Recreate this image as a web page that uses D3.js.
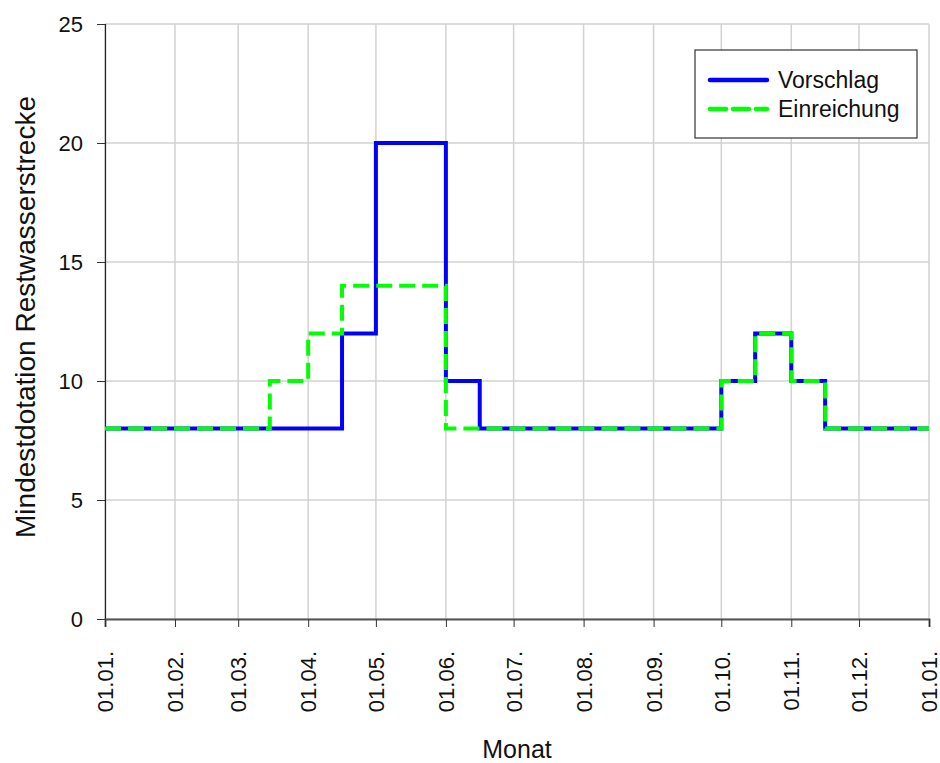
<!DOCTYPE html>
<html>
<head>
<meta charset="utf-8">
<script src="https://cdn.jsdelivr.net/npm/d3@7"></script>
<style>
  body { margin: 0; background: #fff; }
  text { font-family: Arial, 'Liberation Sans', sans-serif; fill: #111; }
</style>
</head>
<body>
<div id="chart"></div>
<script>
// data - change points (day.month) and the value that holds from there on
const vorschlagDates = ['01.01.2001', '16.04.2001', '01.05.2001', '01.06.2001', '16.06.2001', '01.10.2001', '16.10.2001', '01.11.2001', '16.11.2001', '01.01.2002']
const vorschlagValues = [8, 12, 20, 10, 8, 10, 12, 10, 8, 8]

const einreichungDates = ['01.01.2001', '15.03.2001', '01.04.2001', '16.04.2001', '01.06.2001', '01.10.2001', '16.10.2001', '01.11.2001', '16.11.2001', '01.01.2002']
const einreichungValues = [8, 10, 12, 14, 8, 10, 12, 10, 8, 8]

const yTicks = [0, 5, 10, 15, 20, 25]
const seriesNames = ['Vorschlag', 'Einreichung']

const parseDate = d3.timeParse('%d.%m.%Y')

var margin = { top: 24, left: 105, right: 11, bottom: 144 }
const width = 940 - margin.left - margin.right
const height = 763 - margin.top - margin.bottom

const svg = d3
  .select('#chart')
  .append('svg')
  .attr('width', width + margin.left + margin.right)
  .attr('height', height + margin.top + margin.bottom)
  .append('g')
  .attr('transform', 'translate(' + margin.left + ',' + margin.top + ')')

const xPositionScale = d3.scaleTime()
  .domain([parseDate('01.01.2001'), parseDate('01.01.2002')])
  .range([0, width])

const yPositionScale = d3.scaleLinear()
  .domain([0, 25])
  .range([height, 0])

const monthTicks = d3.timeMonth.range(parseDate('01.01.2001'), parseDate('02.01.2002'))

// grid lines
svg.selectAll('.x_grid')
  .data(monthTicks)
  .enter()
  .append('line')
  .attr('class', 'x_grid')
  .attr('x1', d => xPositionScale(d))
  .attr('x2', d => xPositionScale(d))
  .attr('y1', 0)
  .attr('y2', height)
  .attr('stroke', '#d2d2d2')
  .attr('stroke-width', 1.5)

svg.selectAll('.y_grid')
  .data(yTicks)
  .enter()
  .append('line')
  .attr('class', 'y_grid')
  .attr('x1', 0)
  .attr('x2', width)
  .attr('y1', d => yPositionScale(d))
  .attr('y2', d => yPositionScale(d))
  .attr('stroke', '#d2d2d2')
  .attr('stroke-width', 1.5)

// axes
const yAxis = d3.axisLeft(yPositionScale).tickValues(yTicks).tickSize(8).tickPadding(14)
const yG = svg.append('g').attr('class', 'axis y-axis').call(yAxis)
yG.select('.domain').attr('stroke', '#222').attr('stroke-width', 1.2)
yG.selectAll('line').attr('stroke', '#333')
yG.selectAll('text').attr('font-size', '22px').attr('fill', '#111')

const xAxis = d3.axisBottom(xPositionScale).tickValues(monthTicks).tickSize(8).tickFormat(d3.timeFormat('%d.%m.'))
const xG = svg.append('g')
  .attr('class', 'axis x-axis')
  .attr('transform', 'translate(0,' + height + ')')
  .call(xAxis)
xG.select('.domain').attr('stroke', '#555').attr('stroke-width', 2)
xG.selectAll('line').attr('stroke', '#333')
xG.selectAll('text')
  .attr('font-size', '22px')
  .attr('fill', '#111')
  .attr('transform', 'rotate(-90)')
  .attr('text-anchor', 'end')
  .attr('x', -32)
  .attr('y', 0)
  .attr('dy', '0.35em')

// step lines
const stepLine = d3.line()
  .x(d => xPositionScale(d.date))
  .y(d => yPositionScale(d.value))
  .curve(d3.curveStepAfter)

const vorschlag = vorschlagDates.map((d, i) => ({ date: parseDate(d), value: vorschlagValues[i] }))
const einreichung = einreichungDates.map((d, i) => ({ date: parseDate(d), value: einreichungValues[i] }))

svg.append('path')
  .datum(vorschlag)
  .attr('d', stepLine)
  .attr('fill', 'none')
  .attr('stroke', '#0000ff')
  .attr('stroke-width', 4)

svg.append('path')
  .datum(einreichung)
  .attr('d', stepLine)
  .attr('fill', 'none')
  .attr('stroke', '#00ff00')
  .attr('stroke-width', 4)
  .attr('stroke-dasharray', '16,7')

// axis titles
svg.append('text')
  .attr('x', width / 2)
  .attr('y', height + 139)
  .attr('text-anchor', 'middle')
  .attr('font-size', '25px')
  .text('Monat')

svg.append('text')
  .attr('transform', 'translate(' + (25 - margin.left) + ',' + (317 - margin.top) + ') rotate(-90)')
  .attr('text-anchor', 'middle')
  .attr('dominant-baseline', 'central')
  .attr('font-size', '28px')
  .text('Mindestdotation Restwasserstrecke')

// legend
const legend = svg.append('g').attr('transform', 'translate(' + (695 - margin.left) + ',' + (50 - margin.top) + ')')
legend.append('rect')
  .attr('width', 222)
  .attr('height', 88)
  .attr('fill', '#fff')
  .attr('stroke', '#333')
  .attr('stroke-width', 1.2)

const legendStyles = [
  { color: '#0000ff', dash: null },
  { color: '#00ff00', dash: '16,7' }
]

seriesNames.forEach(function(name, i) {
  const ly = 30 + i * 29
  legend.append('line')
    .attr('x1', 15).attr('x2', 72)
    .attr('y1', ly).attr('y2', ly)
    .attr('stroke', legendStyles[i].color)
    .attr('stroke-width', 4.5)
    .attr('stroke-dasharray', legendStyles[i].dash)
    .attr('stroke-linecap', 'round')
  legend.append('text')
    .attr('x', 83)
    .attr('y', ly)
    .attr('dominant-baseline', 'central')
    .attr('font-size', '23px')
    .text(name)
})
</script>
</body>
</html>
